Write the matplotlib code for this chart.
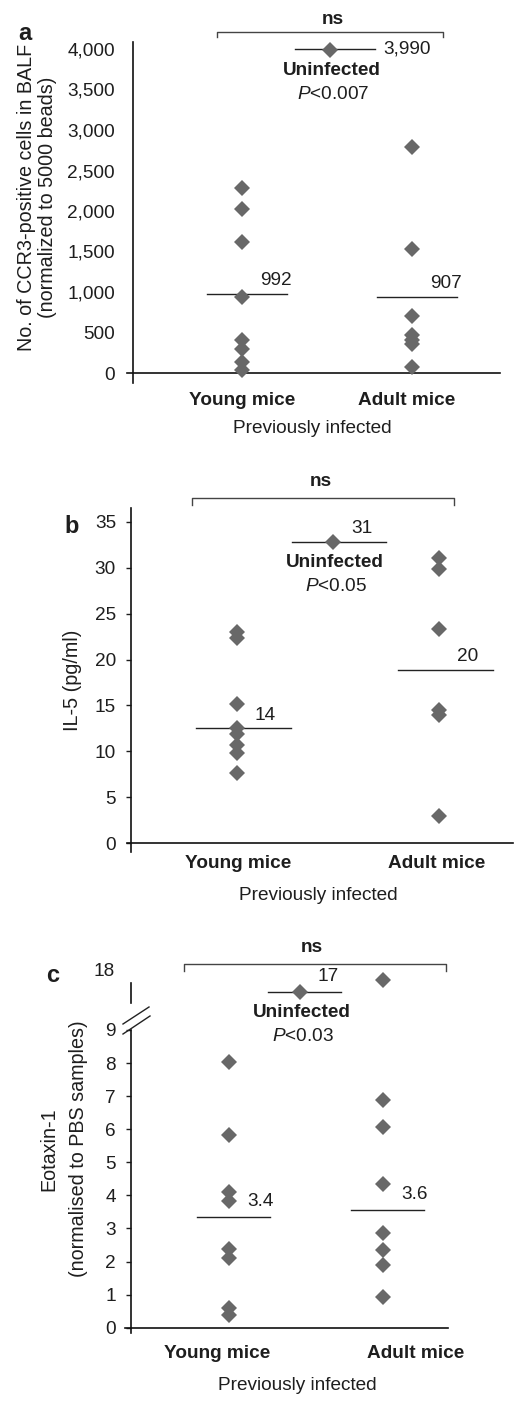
import matplotlib
matplotlib.use("Agg")
import matplotlib.pyplot as plt
from matplotlib.lines import Line2D

plt.rcParams['font.family'] = ['Liberation Sans', 'DejaVu Sans']
plt.rcParams['mathtext.fontset'] = 'custom'
plt.rcParams['mathtext.it'] = 'Liberation Sans:italic'
plt.rcParams['mathtext.rm'] = 'Liberation Sans'

# ---------------- data ----------------
groups = ["Young mice", "Adult mice"]
xlabel_text = "Previously infected"

# panel a: CCR3-positive cells
a_young = [2280, 2020, 1620, 936, 412, 297, 136, 41]
a_adult = [2796, 1534, 709, 470, 410, 360, 70]
a_uninf = [3990]
a_lines = [981, 944, 4000]          # young, adult, uninfected
a_line_labels = ["992", "907", "3,990"]
a_p = "$P$<0.007"
a_yticks = [0, 500, 1000, 1500, 2000, 2500, 3000, 3500, 4000]
a_yticklabels = ["0", "500", "1,000", "1,500", "2,000", "2,500", "3,000", "3,500", "4,000"]

# panel b: IL-5
b_young = [23.0, 22.3, 15.2, 12.5, 11.9, 10.7, 9.8, 7.7]
b_adult = [31.0, 29.9, 23.3, 14.5, 14.0, 3.0]
b_uninf = [32.8]
b_lines = [12.5, 18.9, 32.8]
b_line_labels = ["14", "20", "31"]
b_p = "$P$<0.05"
b_yticks = [0, 5, 10, 15, 20, 25, 30, 35]

# panel c: Eotaxin-1 (broken axis)
c_young = [8.02, 5.83, 4.11, 3.83, 2.38, 2.10, 0.61, 0.38]
c_adult = [17.55, 6.89, 6.08, 4.34, 2.85, 2.35, 1.90, 0.92]
c_uninf = [17.0]
c_lines = [3.36, 3.56, 17.0]
c_line_labels = ["3.4", "3.6", "17"]
c_p = "$P$<0.03"
c_yticks_low = [0, 1, 2, 3, 4, 5, 6, 7, 8, 9]
c_yticks_high = [18]

# ---------------- layout helpers ----------------
W, H = 514, 1406
fig = plt.figure(figsize=(W / 100, H / 100), dpi=100)

def rect(x0, yt, x1, yb):
    return [x0 / W, 1 - yb / H, (x1 - x0) / W, (yb - yt) / H]

def ftext(x, y, s, **kw):
    fig.text(x / W, 1 - y / H, s, **kw)

def fline(xs, ys, **kw):
    fig.add_artist(Line2D([x / W for x in xs], [1 - y / H for y in ys],
                          transform=fig.transFigure, **kw))

FS = 13.7
FSY = 14.2
MCOL = "#686868"
TCOL = "#1e1e1e"
MS = 8.2
HALF = 0.235

def bracket(x0, x1, y, ytick, ns_x, ns_y):
    fline([x0, x0, x1, x1], [ytick, y, y, ytick], color="#444444", lw=1.0)
    ftext(ns_x, ns_y, "ns", ha="center", va="center", fontsize=FS,
          fontweight="bold", color=TCOL)

def style_axis(ax, ticklen, pad):
    for s in ["top", "right", "bottom"]:
        ax.spines[s].set_visible(False)
    ax.spines["left"].set_linewidth(1.2)
    ax.spines["left"].set_color("#111111")
    ax.tick_params(axis="y", direction="out", length=ticklen, width=1.0,
                   pad=pad, labelsize=FS, colors=TCOL)
    ax.set_xticks([])

def xaxis_line(ax, left_px_ext):
    w_px = ax.get_position().width * W
    ax.plot([-left_px_ext / w_px, 1], [0, 0], color="#111111", lw=1.2,
            transform=ax.get_yaxis_transform(), clip_on=False)

def points(ax, xs, vals):
    ax.plot([xs] * len(vals), vals, linestyle="none", marker="D", ms=MS,
            color=MCOL, markeredgewidth=0, clip_on=False, zorder=3)

def mean_line(ax, cx, val, label, dx=18, dy=13):
    ax.plot([cx - HALF + 0.03, cx + HALF + 0.03], [val, val], color="#222222",
            lw=1.0, zorder=2, clip_on=False)
    ax.annotate(label, xy=(cx, val), xytext=(dx, dy), textcoords="offset pixels",
                ha="left", va="center", fontsize=FS, color=TCOL)

def uninf_text(ax, cx, val, ptxt):
    ax.annotate("Uninfected", xy=(cx, val), xytext=(2, -21),
                textcoords="offset pixels", ha="center", va="center",
                fontsize=FS, fontweight="bold", color=TCOL)
    ax.annotate(ptxt, xy=(cx, val), xytext=(3, -45),
                textcoords="offset pixels", ha="center", va="center",
                fontsize=FS, color=TCOL)

# ---------------- panel a ----------------
ax = fig.add_axes(rect(133, 42, 500, 383))
px_per_x = 170.0
ax.set_xlim(-109 / px_per_x, 1 + 88 / px_per_x)
upp = 4000 / (373 - 49)
ax.set_ylim(0 - 10 * upp, 4000 + 7 * upp)
style_axis(ax, 0, 18 * 0.72)
ax.set_yticks(a_yticks)
ax.set_yticklabels(a_yticklabels)
xaxis_line(ax, 6)
ux = 0.518
points(ax, 0, a_young)
points(ax, 1, a_adult)
points(ax, ux, a_uninf)
mean_line(ax, 0, a_lines[0], a_line_labels[0])
mean_line(ax, 1, a_lines[1], a_line_labels[1])
mean_line(ax, ux, a_lines[2], a_line_labels[2], dx=53, dy=0)
uninf_text(ax, ux, a_uninf[0], a_p)
bracket(217, 443, 32, 37, 333, 20)
ftext(25, 33, "a", ha="center", va="center", fontsize=17, fontweight="bold", color=TCOL)
ftext(27, 197, "No. of CCR3-positive cells in BALF", rotation=90, ha="center",
      va="center", fontsize=FSY, color=TCOL)
ftext(48, 197, "(normalized to 5000 beads)", rotation=90, ha="center",
      va="center", fontsize=FSY, color=TCOL)
ftext(242, 400, groups[0], ha="center", va="center", fontsize=FS, fontweight="bold", color=TCOL)
ftext(407, 400, groups[1], ha="center", va="center", fontsize=FS, fontweight="bold", color=TCOL)
ftext(312, 428, xlabel_text, ha="center", va="center", fontsize=FS, color=TCOL)

# ---------------- panel b ----------------
ax = fig.add_axes(rect(131, 508, 513, 852))
px_per_x = 202.0
ax.set_xlim(-106 / px_per_x, 1 + 74 / px_per_x)
upp = 35 / (843.3 - 521.7)
ax.set_ylim(0 - 8.7 * upp, 35 + 13.7 * upp)
style_axis(ax, 3.6, 7.2)
ax.set_yticks(b_yticks)
xaxis_line(ax, 4)
ux = 0.475
points(ax, 0, b_young)
points(ax, 1, b_adult)
points(ax, ux, b_uninf)
mean_line(ax, 0, b_lines[0], b_line_labels[0])
mean_line(ax, 1, b_lines[1], b_line_labels[1])
mean_line(ax, ux, b_lines[2], b_line_labels[2])
uninf_text(ax, ux, b_uninf[0], b_p)
bracket(192, 454, 498, 505, 321, 482)
ftext(72, 527, "b", ha="center", va="center", fontsize=17, fontweight="bold", color=TCOL)
ftext(72, 680, "IL-5 (pg/ml)", rotation=90, ha="center", va="center", fontsize=FSY, color=TCOL)
ftext(238, 864, groups[0], ha="center", va="center", fontsize=FS, fontweight="bold", color=TCOL)
ftext(437, 864, groups[1], ha="center", va="center", fontsize=FS, fontweight="bold", color=TCOL)
ftext(318, 895, xlabel_text, ha="center", va="center", fontsize=FS, color=TCOL)

# ---------------- panel c (broken axis) ----------------
px_per_x = 154.0
xlim_c = (-98 / px_per_x, 1 + 65 / px_per_x)
ux = 0.46
BREAK = 9.0

axl = fig.add_axes(rect(131, 1030, 448, 1333))
axl.set_xlim(*xlim_c)
upp = 9 / (1327.7 - 1030)
axl.set_ylim(0 - 5.3 * upp, 9)
style_axis(axl, 3.6, 7.2)
axl.set_yticks(c_yticks_low)
xaxis_line(axl, 6)

axh = fig.add_axes(rect(131, 960, 448, 1015))
axh.set_xlim(*xlim_c)
upp_h = 1 / (991.7 - 970)
axh.set_ylim(17 - (1015 - 991.7) * upp_h, 18 + 10 * upp_h)
style_axis(axh, 0, 16 * 0.72)
axh.set_yticks(c_yticks_high)
axh.spines["left"].set_bounds(18 - 13 * upp_h, 18 - 33 * upp_h)
axh.patch.set_alpha(0)
axl.patch.set_alpha(0)

for cx, vals in [(0, c_young), (1, c_adult), (ux, c_uninf)]:
    low = [v for v in vals if v <= BREAK]
    high = [v for v in vals if v > BREAK]
    if low:
        points(axl, cx, low)
    if high:
        points(axh, cx, high)
mean_line(axl, 0, c_lines[0], c_line_labels[0], dy=15)
mean_line(axl, 1, c_lines[1], c_line_labels[1], dy=15)
mean_line(axh, ux, c_lines[2], c_line_labels[2], dy=15)
uninf_text(axh, ux, c_uninf[0], c_p)

# break marks
fline([123, 149], [1024, 1007], color="#222222", lw=1.0)
fline([123, 150], [1034, 1016], color="#222222", lw=1.0)

bracket(184, 446, 964, 971, 312, 948)
ftext(53, 976, "c", ha="center", va="center", fontsize=17, fontweight="bold", color=TCOL)
ftext(49, 1149, "Eotaxin-1", rotation=90, ha="center", va="center", fontsize=FSY, color=TCOL)
ftext(78, 1149, "(normalised to PBS samples)", rotation=90, ha="center", va="center",
      fontsize=FSY, color=TCOL)
ftext(217, 1353, groups[0], ha="center", va="center", fontsize=FS, fontweight="bold", color=TCOL)
ftext(416, 1353, groups[1], ha="center", va="center", fontsize=FS, fontweight="bold", color=TCOL)
ftext(297, 1385, xlabel_text, ha="center", va="center", fontsize=FS, color=TCOL)

fig.savefig("out.png", dpi=100)
